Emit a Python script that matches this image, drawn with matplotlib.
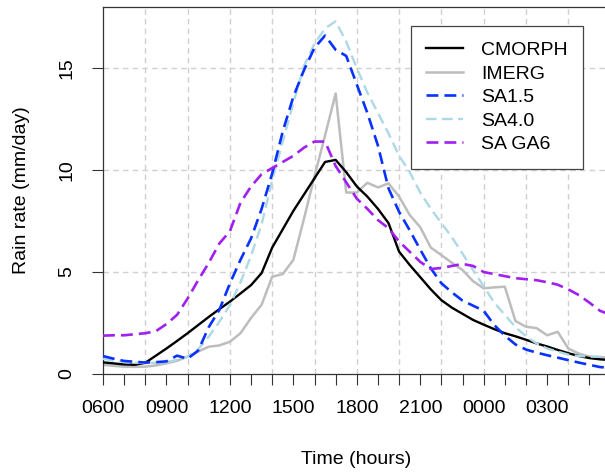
import numpy as np
import matplotlib
matplotlib.use("Agg")
import matplotlib.pyplot as plt
from matplotlib.lines import Line2D

plt.rcParams["font.family"] = ["Liberation Sans", "DejaVu Sans"]

# hours after 0600, half-hourly
hours = np.arange(0, 24.5, 0.5)

cmorph = [0.57, 0.52, 0.47, 0.45, 0.55, 0.9, 1.25, 1.62, 2.0, 2.4,
          2.8, 3.18, 3.55, 3.95, 4.36, 4.95, 6.2, 7.1, 8.0, 8.8,
          9.6, 10.4, 10.5, 9.9, 9.2, 8.7, 8.1, 7.4, 6.0, 5.35,
          4.75, 4.15, 3.62, 3.25, 2.95, 2.65, 2.42, 2.2, 2.0, 1.85,
          1.68, 1.5, 1.35, 1.18, 1.02, 0.88, 0.78, 0.72, 0.68]
imerg = [0.45, 0.4, 0.36, 0.35, 0.36, 0.42, 0.52, 0.65, 0.85, 1.1,
         1.34, 1.4, 1.58, 2.0, 2.75, 3.4, 4.77, 4.9, 5.6, 7.6,
         9.7, 11.7, 13.76, 8.9, 8.9, 9.38, 9.15, 9.35, 8.7, 7.8,
         7.2, 6.2, 5.83, 5.45, 5.1, 4.55, 4.2, 4.25, 4.28, 2.6,
         2.32, 2.25, 1.9, 2.07, 1.25, 1.0, 0.85, 0.82, 0.8]
sa15 = [0.88, 0.75, 0.64, 0.6, 0.56, 0.58, 0.62, 0.9, 0.75, 1.15,
        2.3, 3.14, 4.44, 5.6, 6.65, 8.1, 9.84, 11.9, 13.6, 14.9,
        16.0, 16.6, 15.9, 15.6, 14.2, 12.8, 11.2, 9.1, 7.95, 7.05,
        6.1, 5.18, 4.45, 4.0, 3.6, 3.35, 3.1, 2.4, 1.88, 1.45,
        1.2, 1.05, 0.92, 0.8, 0.68, 0.56, 0.45, 0.34, 0.3]
sa40 = [0.75, 0.65, 0.58, 0.55, 0.55, 0.55, 0.58, 0.7, 0.85, 1.22,
        1.83, 2.56, 3.38, 4.5, 5.8, 7.35, 9.5, 11.4, 13.3, 15.1,
        16.2, 16.95, 17.3, 16.3, 15.0, 13.8, 12.8, 11.8, 10.7, 9.9,
        8.9, 8.1, 7.4, 6.7, 5.9, 5.1, 4.3, 3.5, 2.9, 2.3,
        1.85, 1.5, 1.25, 1.1, 0.95, 0.88, 0.85, 0.85, 0.85]
saga6 = [1.88, 1.9, 1.9, 1.95, 2.0, 2.1, 2.45, 2.9, 3.7, 4.6,
         5.45, 6.4, 7.0, 8.4, 9.2, 9.8, 10.1, 10.4, 10.7, 11.1,
         11.4, 11.4, 10.2, 9.4, 8.6, 8.1, 7.55, 7.15, 6.5, 6.0,
         5.5, 5.15, 5.2, 5.3, 5.4, 5.3, 5.0, 4.9, 4.8, 4.7,
         4.65, 4.6, 4.5, 4.38, 4.15, 3.87, 3.5, 3.1, 2.9]

tick_hours = list(range(0, 24))
label_hours = [0, 3, 6, 9, 12, 15, 18, 21]
tick_labels = ["0600", "0900", "1200", "1500", "1800", "2100", "0000", "0300"]

fig = plt.figure(figsize=(6.05, 4.72), dpi=100)
W, H = 605, 472
ax = fig.add_axes([103 / W, 1 - 374 / H, 502 / W, 367 / H])
ax.set_xlim(0, 502 / 21.15)
ax.set_ylim(0, 18)

grid_kw = dict(color="#d0d0d0", lw=1.0, ls=(0, (4, 3)), zorder=0)
for h in range(2, 24, 2):
    ax.axvline(h, **grid_kw)
for v in (5, 10, 15):
    ax.axhline(v, **grid_kw)

dash = (0, (4.5, 2.3))
ax.plot(hours, imerg, color="#bdbdbd", lw=1.8, zorder=2)
ax.plot(hours, cmorph, color="black", lw=1.7, zorder=3)
ax.plot(hours, sa40, color="#add8e6", lw=1.7, ls=dash, zorder=4)
ax.plot(hours, sa15, color="#0a32ff", lw=1.9, ls=dash, zorder=5)
ax.plot(hours, saga6, color="#a020f0", lw=1.9, ls=dash, zorder=6)

ax.spines["right"].set_visible(False)
for side in ("top", "left", "bottom"):
    ax.spines[side].set_color("#333333")
    ax.spines[side].set_linewidth(0.9)

ax.set_xticks(tick_hours)
ax.set_xticklabels([tick_labels[label_hours.index(h)] if h in label_hours else "" for h in tick_hours])
ax.set_yticks([0, 5, 10, 15])
ax.tick_params(axis="x", length=8, width=0.8, color="#333333", pad=11, labelsize=14)
ax.tick_params(axis="y", length=8, width=0.8, color="#333333", pad=12, labelsize=14)
for lab in ax.get_yticklabels():
    lab.set_rotation(90)
    lab.set_va("center")

fig.text(356 / W, 1 - 460 / H, "Time (hours)", ha="center", va="center", fontsize=14)
fig.text(22 / W, 1 - 190 / H, "Rain rate (mm/day)", ha="center", va="center", rotation=90, fontsize=14)

handles = [
    Line2D([], [], color="black", lw=1.7),
    Line2D([], [], color="#bdbdbd", lw=1.8),
    Line2D([], [], color="#0a32ff", lw=1.9, ls=dash),
    Line2D([], [], color="#add8e6", lw=1.7, ls=dash),
    Line2D([], [], color="#a020f0", lw=1.9, ls=dash),
]
names = ["CMORPH", "IMERG", "SA1.5", "SA4.0", "SA GA6"]
leg = ax.legend(handles, names, loc="upper right", bbox_to_anchor=((583 - 103) / 502, (374 - 26) / 367),
                borderaxespad=0, fontsize=14, frameon=True, fancybox=False, framealpha=1,
                handlelength=1.9, handletextpad=0.9, labelspacing=0.3, borderpad=0.8)
leg.get_frame().set_edgecolor("#444444")
leg.get_frame().set_linewidth(0.9)

fig.savefig("out.png", dpi=100)
